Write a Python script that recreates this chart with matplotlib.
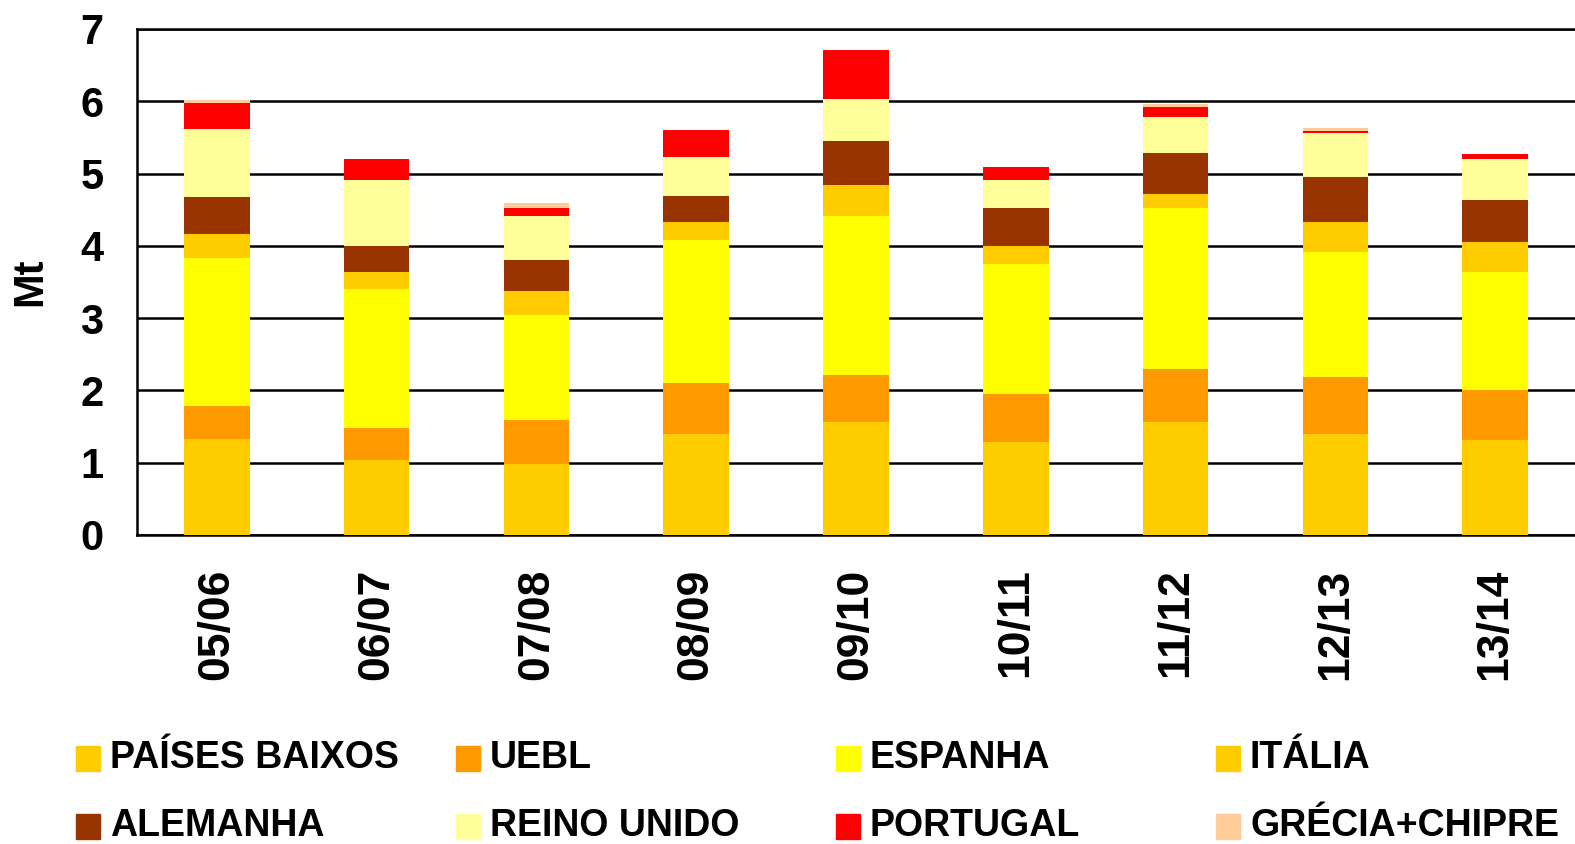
import numpy as np
import matplotlib.pyplot as plt
from matplotlib.patches import Rectangle

plt.rcParams['font.family'] = ['Liberation Sans', 'DejaVu Sans']
plt.rcParams['font.weight'] = 'bold'

# campanhas
anos = ['05/06', '06/07', '07/08', '08/09', '09/10', '10/11', '11/12', '12/13', '13/14']

# Mt por origem
paises_baixos = [1.33, 1.04, 0.98, 1.40, 1.56, 1.29, 1.56, 1.40, 1.31]
uebl = [0.45, 0.44, 0.61, 0.70, 0.65, 0.66, 0.74, 0.78, 0.69]
espanha = [2.05, 1.92, 1.45, 1.98, 2.20, 1.80, 2.22, 1.73, 1.64]
italia = [0.33, 0.24, 0.33, 0.25, 0.43, 0.25, 0.20, 0.42, 0.41]
alemanha = [0.52, 0.36, 0.43, 0.36, 0.61, 0.52, 0.56, 0.62, 0.58]
reino_unido = [0.94, 0.91, 0.61, 0.54, 0.58, 0.39, 0.50, 0.61, 0.57]
portugal = [0.36, 0.29, 0.11, 0.37, 0.68, 0.18, 0.14, 0.03, 0.07]
grecia_chipre = [0.04, 0.00, 0.07, 0.00, 0.00, 0.00, 0.04, 0.04, 0.00]

series = [
    ('PAÍSES BAIXOS', paises_baixos, '#FFCC00'),
    ('UEBL', uebl, '#FF9900'),
    ('ESPANHA', espanha, '#FFFF00'),
    ('ITÁLIA', italia, '#FFCC00'),
    ('ALEMANHA', alemanha, '#993300'),
    ('REINO UNIDO', reino_unido, '#FFFF99'),
    ('PORTUGAL', portugal, '#FF0000'),
    ('GRÉCIA+CHIPRE', grecia_chipre, '#FFCC99'),
]

W, H = 1575, 844
fig = plt.figure(figsize=(W / 100, H / 100), dpi=100)
ax = fig.add_axes([137 / W, 1 - 535 / H, 1 - 137 / W, (535 - 29) / H])

x = np.arange(len(anos))
bottom = np.zeros(len(anos))
for nome, vals, cor in series:
    ax.bar(x, vals, width=0.41, bottom=bottom, color=cor, zorder=3)
    bottom += np.array(vals)

ax.set_xlim(-0.5, len(anos) - 0.5)
ax.set_ylim(0, 7)
ax.set_yticks(range(8))
ax.yaxis.grid(True, color='black', linewidth=1.8, zorder=1)
ax.set_axisbelow(True)

ax.set_xticks(x)
ax.set_xticklabels(anos, rotation=90, fontsize=32, fontweight='bold')
ax.tick_params(axis='x', length=0, pad=24)
ax.tick_params(axis='y', length=0, pad=24, labelsize=30)
for lab in ax.get_yticklabels():
    lab.set_fontweight('bold')

ax.set_ylabel('Mt', fontsize=30, fontweight='bold', labelpad=22)

ax.spines['right'].set_visible(False)
for s in ['left', 'bottom', 'top']:
    ax.spines[s].set_color('black')
    ax.spines[s].set_linewidth(1.8)

# legenda em grelha 4x2
for i, (nome, vals, cor) in enumerate(series):
    row, col = divmod(i, 4)
    x0 = 76 + col * 380
    yc = 758 + row * 68
    fig.patches.append(Rectangle((x0 / W, 1 - (yc + 12.5) / H), 24 / W, 25 / H,
                                 transform=fig.transFigure, color=cor, figure=fig))
    fig.text((x0 + 34) / W, 1 - yc / H, nome, fontsize=27, fontweight='bold',
             va='center', ha='left')

fig.savefig('out.png', dpi=100)
